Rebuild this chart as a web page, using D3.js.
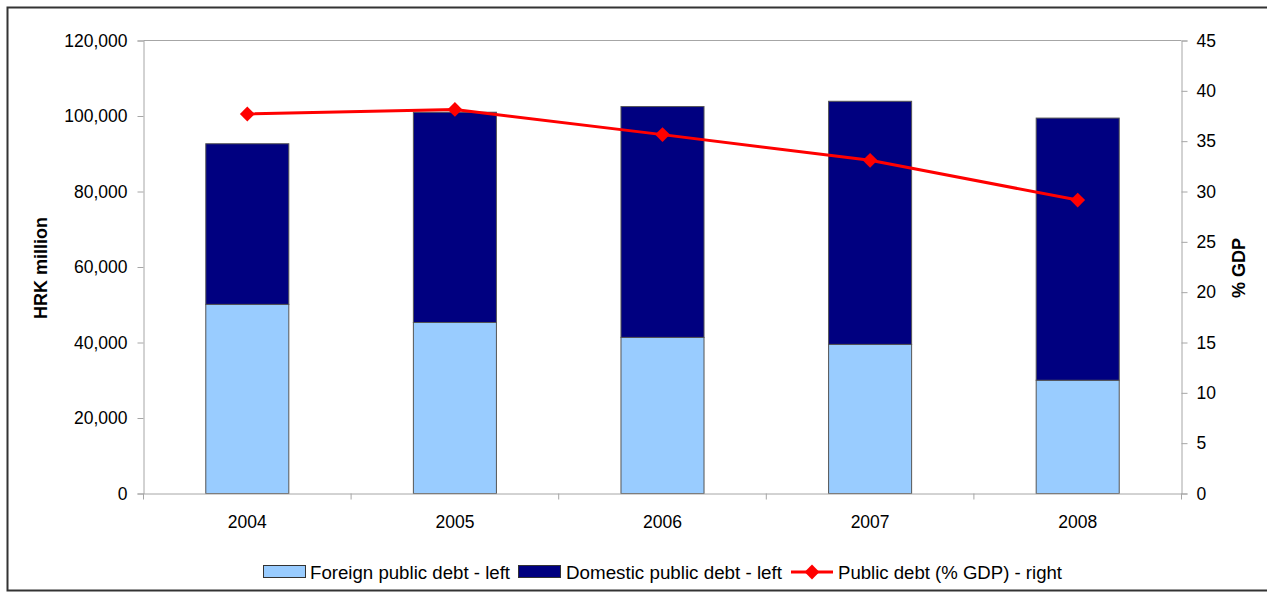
<!DOCTYPE html>
<html lang="en">
<head>
<meta charset="utf-8">
<title>Public debt</title>
<script src="https://d3js.org/d3.v7.min.js"></script>
<style>
  body { margin: 0; background: #fff; }
  svg text { font-family: "Liberation Sans", Arial, sans-serif; fill: #000; }
</style>
</head>
<body>
<script>
// data
var years = ["2004", "2005", "2006", "2007", "2008"];
var foreignDebt = [50100, 45300, 41350, 39500, 30000];   // HRK million, left axis
var domesticDebt = [42550, 55700, 61150, 64400, 69450];  // HRK million, left axis
var debtPctGdp = [37.7, 38.15, 35.65, 33.1, 29.15];      // % GDP, right axis
var leftTicks = [0, 20000, 40000, 60000, 80000, 100000, 120000];
var rightTicks = [0, 5, 10, 15, 20, 25, 30, 35, 40, 45];

var W = 1267, H = 592;
var m = {left: 143.5, right: 1181.5, top: 40.5, bottom: 493.5};

var svg = d3.select("body").append("svg")
    .attr("width", W)
    .attr("height", H);

// outer frame
svg.append("rect")
    .attr("x", 7.5).attr("y", 7.5)
    .attr("width", W + 10).attr("height", 583)
    .attr("fill", "none")
    .attr("stroke", "#333")
    .attr("stroke-width", 2);

var x = d3.scaleBand()
    .domain(years)
    .range([m.left, m.right])
    .paddingInner(0.6)
    .paddingOuter(0.3);

var yL = d3.scaleLinear().domain([0, 120000]).range([m.bottom, m.top]);
var yR = d3.scaleLinear().domain([0, 45]).range([m.bottom, m.top]);

// plot top border
svg.append("line")
    .attr("x1", m.left).attr("x2", m.right)
    .attr("y1", m.top).attr("y2", m.top)
    .attr("stroke", "#a6a6a6");

var rows = years.map(function(yr, i) {
    return {year: yr, foreign: foreignDebt[i], domestic: domesticDebt[i]};
});
var stack = d3.stack().keys(["foreign", "domestic"])(rows);
var colors = {foreign: "#99ccff", domestic: "#000080"};

svg.selectAll("g.series")
    .data(stack)
    .enter().append("g")
    .attr("class", "series")
    .attr("fill", function(d) { return colors[d.key]; })
    .selectAll("rect")
    .data(function(d) { return d; })
    .enter().append("rect")
    .attr("x", function(d) { return x(d.data.year); })
    .attr("width", x.bandwidth())
    .attr("y", function(d) { return yL(d[1]); })
    .attr("height", function(d) { return yL(d[0]) - yL(d[1]); })
    .attr("stroke", "#555")
    .attr("stroke-width", 1);

// axes
var axisColor = "#a6a6a6";
var gl = svg.append("g")
    .attr("transform", "translate(" + m.left + ",0)")
    .call(d3.axisLeft(yL).tickValues(leftTicks).tickSize(6).tickPadding(10)
        .tickFormat(d3.format(",")));
var gr = svg.append("g")
    .attr("transform", "translate(" + m.right + ",0)")
    .call(d3.axisRight(yR).tickValues(rightTicks).tickSize(6).tickPadding(9));
var gx = svg.append("g")
    .attr("transform", "translate(0," + m.bottom + ")")
    .call(d3.axisBottom(x).tickSize(0).tickPadding(22));

[gl, gr, gx].forEach(function(g) {
    g.select(".domain").attr("stroke", axisColor);
    g.selectAll(".tick line").attr("stroke", axisColor);
    g.selectAll("text").style("font-size", "17.5px").attr("fill", "#000");
});

// x category boundary ticks
var step = x.step();
svg.selectAll("line.xtick")
    .data(d3.range(years.length + 1))
    .enter().append("line")
    .attr("class", "xtick")
    .attr("x1", function(k) { return m.left + k * step; })
    .attr("x2", function(k) { return m.left + k * step; })
    .attr("y1", m.bottom).attr("y2", m.bottom + 6)
    .attr("stroke", axisColor);

// line series
var line = d3.line()
    .x(function(d, i) { return x(years[i]) + x.bandwidth() / 2; })
    .y(function(d) { return yR(d); });

svg.append("path")
    .datum(debtPctGdp)
    .attr("d", line)
    .attr("fill", "none")
    .attr("stroke", "#ff0000")
    .attr("stroke-width", 3);

var diamond = d3.symbol().type(d3.symbolSquare).size(110);
svg.selectAll("path.marker")
    .data(debtPctGdp)
    .enter().append("path")
    .attr("class", "marker")
    .attr("d", diamond)
    .attr("fill", "#ff0000")
    .attr("transform", function(d, i) {
        return "translate(" + (x(years[i]) + x.bandwidth() / 2) + "," + yR(d) + ") rotate(45)";
    });

// axis titles
svg.append("text")
    .attr("transform", "translate(47,268) rotate(-90)")
    .attr("text-anchor", "middle")
    .style("font-size", "18px")
    .style("font-weight", "bold")
    .text("HRK million");
svg.append("text")
    .attr("transform", "translate(1245,268) rotate(-90)")
    .attr("text-anchor", "middle")
    .style("font-size", "18px")
    .style("font-weight", "bold")
    .text("% GDP");

// legend
var lg = svg.append("g").attr("class", "legend");
var ly = 572;

function legendText(xPos, len, label) {
    lg.append("text").attr("x", xPos).attr("y", ly + 6.5)
        .style("font-size", "18px")
        .attr("textLength", len)
        .attr("lengthAdjust", "spacingAndGlyphs")
        .text(label);
}

lg.append("rect").attr("x", 263.5).attr("y", ly - 6.5).attr("width", 42).attr("height", 12)
    .attr("fill", colors.foreign).attr("stroke", "#333");
legendText(310, 200, "Foreign public debt - left");

lg.append("rect").attr("x", 518.5).attr("y", ly - 6.5).attr("width", 42).attr("height", 12)
    .attr("fill", colors.domestic).attr("stroke", "#333");
legendText(566, 216, "Domestic public debt - left");

lg.append("line").attr("x1", 791).attr("x2", 833).attr("y1", ly).attr("y2", ly)
    .attr("stroke", "#ff0000").attr("stroke-width", 3);
lg.append("path").attr("d", diamond)
    .attr("transform", "translate(812," + ly + ") rotate(45)")
    .attr("fill", "#ff0000");
legendText(838, 224, "Public debt (% GDP) - right");
</script>
</body>
</html>
